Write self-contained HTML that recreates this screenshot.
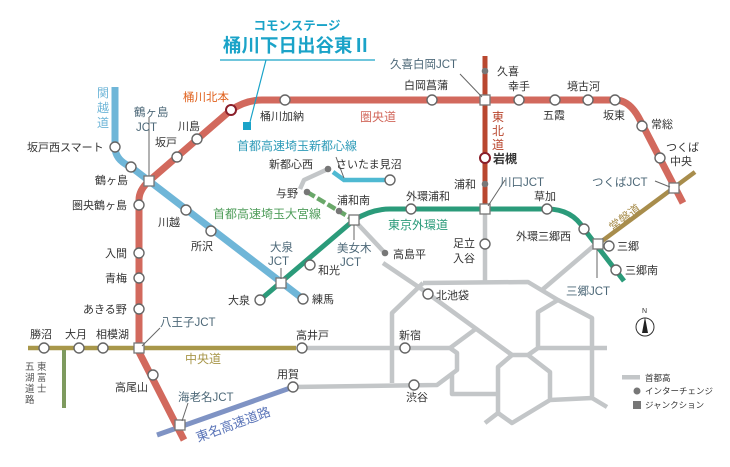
<!DOCTYPE html>
<html><head><meta charset="utf-8"><style>
html,body{margin:0;padding:0;background:#fff;}
svg{display:block;font-family:"Liberation Sans","Noto Sans CJK JP",sans-serif;}
.t{font-size:11px;fill:#333;}
.j{font-size:11.5px;fill:#4d6878;}
.s{fill:#fff;stroke:#666;stroke-width:1.4;}
.q{fill:#fff;stroke:#777;stroke-width:1.3;}
.g{fill:none;stroke:#c3c6c8;stroke-width:4.5;stroke-linejoin:round;}
</style></head><body>
<svg width="730" height="467" viewBox="0 0 730 467">
<g class="g">
<polyline points="354,220 385,253"/>
<polyline points="383,263 423,290 512,355"/>
<polyline points="423,283 528,282 558,300 592,318 592,398 607,407"/>
<polyline points="423,283 392,313 392,383"/>
<polyline points="485,210 485,282"/>
<polyline points="596,244 542,290"/>
<polyline points="558,300 538,312 538,348"/>
<polyline points="512,355 528,355 538,348 607,348"/>
<polyline points="302,348 450,348 457,353 457,370 437,385 293,387"/>
<polyline points="450,348 477,328"/>
<polyline points="512,355 498,367 498,413 485,423"/>
<polyline points="498,413 512,423 550,400 592,398"/>
<polyline points="528,355 550,372 550,400"/>
<polyline points="452,373 452,394 498,394"/>
<polyline points="328,169 304,180 300,189"/>
</g>
<polyline points="333,172 344,180 390,180" fill="none" stroke="#4fb9d2" stroke-width="4.5"/>
<line x1="307" y1="192" x2="354" y2="220" stroke="#6aa86a" stroke-width="4.5" stroke-dasharray="9,3"/>
<path d="M115,87 L115,147 Q115,160 131,167 L303,299" fill="none" stroke="#6fb6d8" stroke-width="7"/>
<line x1="28" y1="348" x2="296" y2="348" stroke="#a8974a" stroke-width="4.5"/>
<line x1="64" y1="350" x2="64" y2="408" stroke="#7e9a5e" stroke-width="4"/>
<line x1="157" y1="435" x2="293" y2="387" stroke="#7f93c4" stroke-width="5"/>
<line x1="598" y1="244" x2="695" y2="172" stroke="#a88d4c" stroke-width="4.5"/>
<path d="M260,300 L354,220 Q372,209 390,209 L547,209 Q572,209 584,229 L624,281" fill="none" stroke="#2b9b7a" stroke-width="5"/>
<line x1="485" y1="56" x2="485" y2="210" stroke="#b9472f" stroke-width="5"/>
<path d="M184,440 L139,352 L139,200 Q139,190 149,181 L231,110 Q246,100 262,100 L615,100 Q630,100 640,120 L683,203" fill="none" stroke="#d2695d" stroke-width="7" stroke-linejoin="round"/>

<g class="s">
<circle cx="115" cy="147" r="5"/><circle cx="131" cy="167" r="5"/>
<circle cx="139" cy="205" r="5"/><circle cx="139" cy="253" r="5"/><circle cx="139" cy="278" r="5"/><circle cx="139" cy="309" r="5"/>
<circle cx="153" cy="375" r="5"/>
<circle cx="177" cy="157" r="5"/><circle cx="197" cy="139" r="5"/>
<circle cx="285" cy="100" r="5"/><circle cx="432" cy="100" r="5"/><circle cx="519" cy="100" r="5"/><circle cx="555" cy="100" r="5"/><circle cx="588" cy="100" r="5"/><circle cx="615" cy="100" r="5"/>
<circle cx="642" cy="126" r="5"/><circle cx="660" cy="158" r="5"/>
<circle cx="186" cy="210" r="5"/><circle cx="211" cy="231" r="5"/>
<circle cx="260" cy="300" r="5"/><circle cx="303" cy="299" r="5"/><circle cx="310" cy="265" r="5"/>
<circle cx="411" cy="209" r="5"/><circle cx="547" cy="209" r="5"/><circle cx="584" cy="229" r="5"/>
<circle cx="609" cy="246" r="5"/><circle cx="616" cy="270" r="5"/>
<circle cx="390" cy="180" r="5"/><circle cx="485" cy="244" r="5"/>
<circle cx="428" cy="294" r="5"/><circle cx="405" cy="348" r="5"/><circle cx="414" cy="385" r="5"/>
<circle cx="302" cy="348" r="5"/><circle cx="293" cy="387" r="5"/>
<circle cx="44" cy="348" r="5"/><circle cx="79" cy="348" r="5"/><circle cx="103" cy="348" r="5"/>
</g>
<circle cx="231" cy="110" r="5" fill="#fff" stroke="#8a1f2a" stroke-width="2"/>
<circle cx="485" cy="158" r="5" fill="#fff" stroke="#8a1f2a" stroke-width="2"/>
<g fill="#777"><circle cx="485" cy="71" r="3.3"/><circle cx="485" cy="184" r="3.3"/><circle cx="328" cy="169" r="3.3"/><circle cx="307" cy="192" r="3.3"/><circle cx="339" cy="211" r="3.3"/><circle cx="385" cy="253" r="3.3"/></g>
<g class="q">
<rect x="144" y="176" width="10" height="10"/><rect x="480" y="95" width="10" height="10"/><rect x="480" y="204" width="10" height="10"/>
<rect x="669" y="183" width="10" height="10"/><rect x="593" y="239" width="10" height="10"/><rect x="349" y="215" width="10" height="10"/>
<rect x="276" y="278" width="10" height="10"/><rect x="134" y="343" width="10" height="10"/><rect x="175" y="420" width="10" height="10"/>
</g>
<g stroke="#666" stroke-width="1" fill="none">
<line x1="149" y1="117" x2="149" y2="176"/><line x1="460" y1="74" x2="482" y2="97"/><line x1="505" y1="180" x2="488" y2="206"/>
<line x1="655" y1="181" x2="670" y2="187"/><line x1="597" y1="249" x2="597" y2="278"/><line x1="354" y1="225" x2="354" y2="240"/>
<line x1="281" y1="268" x2="281" y2="279"/><line x1="160" y1="328" x2="142" y2="346"/><line x1="188" y1="403" x2="182" y2="421"/>
<line x1="336" y1="157" x2="344" y2="178"/>
</g>
<text x="297" y="30" font-size="12.5" fill="#1aa3c8" text-anchor="middle" font-weight="bold">コモンステージ</text>
<text x="297" y="52" font-size="18.5" fill="#1aa3c8" text-anchor="middle" font-weight="bold">桶川下日出谷東Ⅱ</text>
<line x1="220" y1="60" x2="375" y2="60" stroke="#1aa3c8" stroke-width="1.2"/>
<line x1="266" y1="60" x2="250" y2="122" stroke="#1aa3c8" stroke-width="1.2"/>
<rect x="243" y="122" width="8" height="8" fill="#1aa3c8"/>
<g font-size="12">
<text x="360" y="121" fill="#d2695d">圏央道</text>
<text x="237" y="150" fill="#2e9bb8">首都高速埼玉新都心線</text>
<text x="213" y="218" fill="#4f9d5a">首都高速埼玉大宮線</text>
<text x="388" y="229" fill="#2b9b7a">東京外環道</text>
<text x="185" y="363" fill="#a8974a">中央道</text>
<text x="97" y="97" fill="#6fb6d8">関</text><text x="97" y="112" fill="#6fb6d8">越</text><text x="97" y="127" fill="#6fb6d8">道</text>
<text x="492" y="121" fill="#b9472f">東</text><text x="492" y="135" fill="#b9472f">北</text><text x="492" y="149" fill="#b9472f">道</text>
<text x="0" y="0" fill="#a88d4c" transform="translate(613,232) rotate(-37)">常磐道</text>
<text x="0" y="0" fill="#5a74b8" transform="translate(198,442) rotate(-20)" font-size="13">東名高速道路</text>
</g>
<g font-size="9.5" fill="#555"><text x="37" y="370">東</text><text x="37" y="381">富</text><text x="37" y="392">士</text>
<text x="25" y="370">五</text><text x="25" y="381">湖</text><text x="25" y="392">道</text><text x="25" y="403">路</text></g>
<g class="t">
<text x="183" y="101" fill="#e0621e" font-size="11.5">桶川北本</text>
<text x="260" y="120">桶川加納</text>
<text x="404" y="89">白岡菖蒲</text>
<text x="497" y="75">久喜</text>
<text x="508" y="90">幸手</text>
<text x="543" y="119">五霞</text>
<text x="567" y="90">境古河</text>
<text x="603" y="119">坂東</text>
<text x="651" y="128">常総</text>
<text x="666" y="151">つくば</text><text x="670" y="165">中央</text>
<text x="493" y="163" font-weight="bold" font-size="12">岩槻</text>
<text x="454" y="188">浦和</text>
<text x="336" y="168">さいたま見沼</text>
<text x="269" y="168">新都心西</text>
<text x="276" y="197">与野</text>
<text x="337" y="204">浦和南</text>
<text x="406" y="200">外環浦和</text>
<text x="534" y="200">草加</text>
<text x="516" y="240">外環三郷西</text>
<text x="617" y="250">三郷</text>
<text x="625" y="274">三郷南</text>
<text x="393" y="258">高島平</text>
<text x="453" y="247">足立</text><text x="453" y="262">入谷</text>
<text x="436" y="299">北池袋</text>
<text x="399" y="339">新宿</text>
<text x="406" y="401">渋谷</text>
<text x="296" y="339">高井戸</text>
<text x="277" y="378">用賀</text>
<text x="318" y="274">和光</text>
<text x="312" y="303">練馬</text>
<text x="228" y="304">大泉</text>
<text x="191" y="250">所沢</text>
<text x="158" y="226">川越</text>
<text x="155" y="146">坂戸</text>
<text x="178" y="130">川島</text>
<text x="27" y="151">坂戸西スマート</text>
<text x="95" y="184">鶴ヶ島</text>
<text x="72" y="209">圏央鶴ヶ島</text>
<text x="105" y="257">入間</text>
<text x="105" y="282">青梅</text>
<text x="83" y="313">あきる野</text>
<text x="30" y="338">勝沼</text>
<text x="65" y="338">大月</text>
<text x="96" y="338">相模湖</text>
<text x="115" y="391">高尾山</text>
</g>
<g class="j">
<text x="390" y="68">久喜白岡JCT</text>
<text x="500" y="186">川口JCT</text>
<text x="592" y="186">つくばJCT</text>
<text x="566" y="295">三郷JCT</text>
<text x="337" y="252">美女木</text><text x="340" y="266">JCT</text>
<text x="270" y="251">大泉</text><text x="268" y="265">JCT</text>
<text x="134" y="116">鶴ヶ島</text><text x="136" y="131">JCT</text>
<text x="160" y="326">八王子JCT</text>
<text x="178" y="401">海老名JCT</text>
</g>
<circle cx="645" cy="327" r="9" fill="#fff" stroke="#333" stroke-width="1"/>
<polygon points="645,317 648,333 642,333" fill="#222"/>
<text x="642" y="313" font-size="7" fill="#333">N</text>
<rect x="622" y="375" width="18" height="4.5" fill="#c3c6c8"/>
<text x="645" y="381" font-size="8.5" fill="#333">首都高</text>
<circle cx="637" cy="391" r="3.5" fill="#777"/>
<text x="645" y="394" font-size="8.5" fill="#333">インターチェンジ</text>
<rect x="633" y="401" width="8" height="8" fill="#777"/>
<text x="645" y="408" font-size="8.5" fill="#333">ジャンクション</text>
</svg>
</body></html>
